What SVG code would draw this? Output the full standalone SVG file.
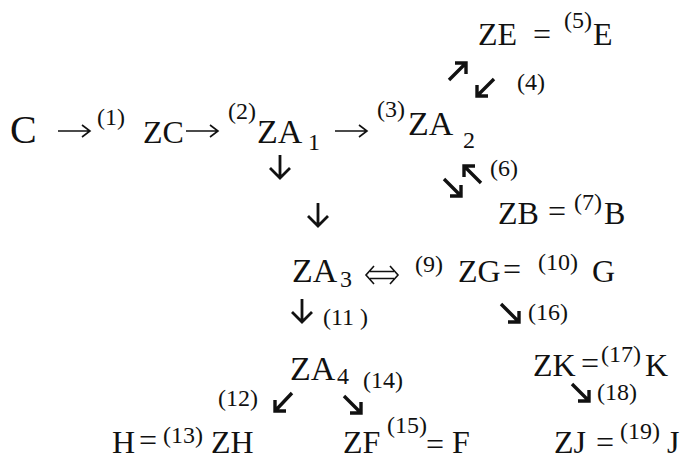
<svg xmlns="http://www.w3.org/2000/svg" width="683" height="461" viewBox="0 0 683 461">
<style>
.t{font-family:"Liberation Serif","Times New Roman",serif;font-size:32px;fill:#111}
.s{font-size:24px}
.b{font-size:24px}
.a{fill:none;stroke:#111;stroke-width:1.6}
.d{fill:none;stroke:#111;stroke-width:2.8}
.g{fill:none;stroke:#111;stroke-width:3.4}
</style>
<rect width="683" height="461" fill="#fff"/>
<g id="connectors">
  <path class="a" d="M58,131 H90 M82,125 L90,131 L82,137"/>
  <path class="a" d="M186,131 H218 M210,125 L218,131 L210,137"/>
  <path class="a" d="M335,131 H367 M359,125 L367,131 L359,137"/>
  <path class="d" d="M280,155 V178 M270,168 L280,178 L290,168"/>
  <path class="d" d="M318,203 V226 M308,216 L318,226 L328,216"/>
  <path class="d" d="M302,299 V322 M292,312 L302,322 L312,312"/>
  <path class="g" d="M449,80 L466,63 M455,63 H466 V74"/>
  <path class="g" d="M494,79 L477,96 M477,85 V96 H488"/>
  <path class="g" d="M444,179 L461,196 M450,196 H461 V185"/>
  <path class="g" d="M481,183 L464,166 M464,177 V166 H475"/>
  <path class="g" d="M501,304 L519,322 M508,322 H519 V311"/>
  <path class="g" d="M292,393 L275,411 M275,400 V411 H286"/>
  <path class="g" d="M344,396 L361,413 M350,413 H361 V402"/>
  <path class="g" d="M572,384 L589,401 M578,401 H589 V390"/>
  <path class="a" d="M374,266 L366,275 L374,284 M390,266 L398,275 L390,284 M370,271.5 H394 M370,278.5 H394"/>
  <g class="t s">
    <text x="97" y="125">(1)</text>
    <text x="228" y="119">(2)</text>
    <text x="377" y="117">(3)</text>
    <text x="517" y="90">(4)</text>
    <text x="490" y="176">(6)</text>
    <text x="415" y="272">(9)</text>
    <text x="323" y="325">(11 )</text>
    <text x="528" y="320">(16)</text>
    <text x="363" y="388">(14)</text>
    <text x="218" y="406">(12)</text>
    <text x="597" y="400">(18)</text>
  </g>
</g>
<g id="C"><text class="t" x="10" y="143" style="font-size:40px">C</text></g>
<g id="ZC"><text class="t" x="143" y="143">ZC</text></g>
<g id="ZA1"><text class="t" x="257" y="143" style="font-size:34px">ZA</text><text class="t b" x="308" y="150">1</text></g>
<g id="ZA2"><text class="t" x="408" y="135" style="font-size:34px">ZA</text><text class="t b" x="463" y="148">2</text></g>
<g id="ZE"><text class="t" x="478" y="45">ZE</text><text class="t" x="533" y="45">=</text><text class="t s" x="564" y="28">(5)</text><text class="t" x="593" y="45">E</text></g>
<g id="ZB"><text class="t" x="498" y="224">ZB</text><text class="t" x="548" y="222">=</text><text class="t s" x="574" y="210">(7)</text><text class="t" x="604" y="224">B</text></g>
<g id="ZA3"><text class="t" x="292" y="282" style="font-size:34px">ZA</text><text class="t b" x="340" y="287">3</text></g>
<g id="ZG"><text class="t" x="458" y="282">ZG</text><text class="t" x="503" y="280">=</text><text class="t s" x="538" y="270">(10)</text><text class="t" x="592" y="282">G</text></g>
<g id="ZA4"><text class="t" x="290" y="380" style="font-size:34px">ZA</text><text class="t b" x="337" y="384">4</text></g>
<g id="ZH"><text class="t" x="112" y="453">H</text><text class="t" x="139" y="451">=</text><text class="t s" x="163" y="443">(13)</text><text class="t" x="211" y="453">ZH</text></g>
<g id="ZF"><text class="t" x="343" y="453">ZF</text><text class="t s" x="387" y="433">(15)</text><text class="t" x="426" y="455">=</text><text class="t" x="452" y="453">F</text></g>
<g id="ZK"><text class="t" x="533" y="376">ZK</text><text class="t" x="581" y="374">=</text><text class="t s" x="601" y="362">(17)</text><text class="t" x="645" y="376">K</text></g>
<g id="ZJ"><text class="t" x="554" y="453">ZJ</text><text class="t" x="596" y="453">=</text><text class="t s" x="620" y="439">(19)</text><text class="t" x="667" y="453">J</text></g>
</svg>
